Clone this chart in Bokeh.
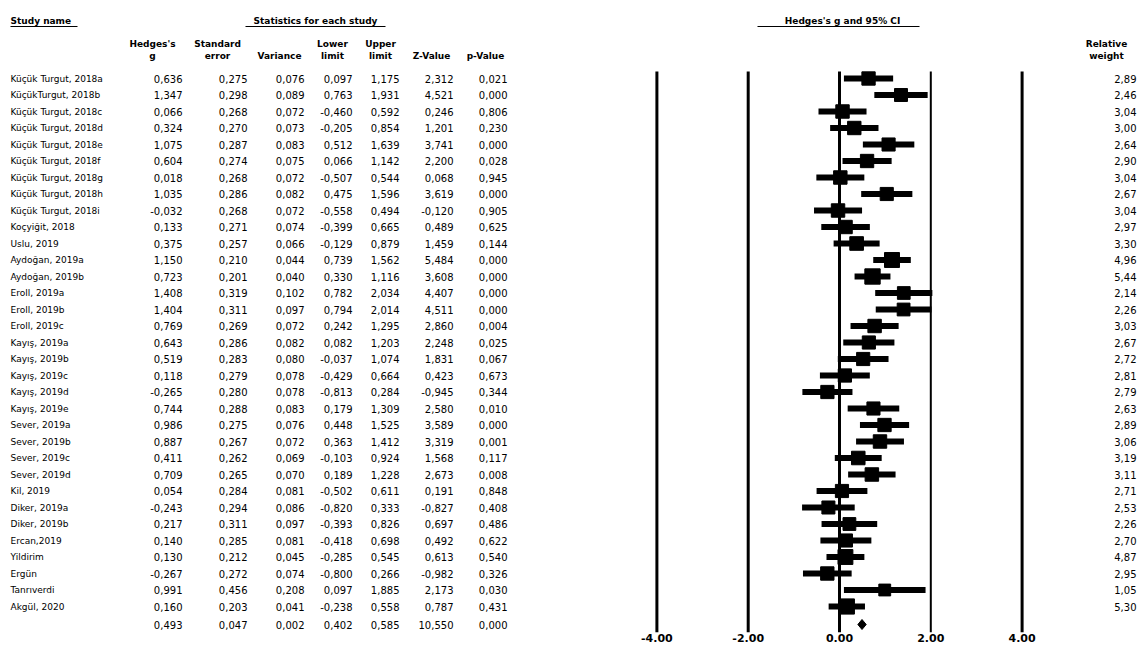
from bokeh.plotting import figure
from bokeh.models import Range1d, FixedTicker, NumeralTickFormatter
from bokeh.core.properties import value
from bokeh.embed import file_html
from bokeh.resources import INLINE

# ---------------- data ----------------
study_names = [
    "Küçük Turgut, 2018a", "KüçükTurgut, 2018b", "Küçük Turgut, 2018c",
    "Küçük Turgut, 2018d", "Küçük Turgut, 2018e", "Küçük Turgut, 2018f",
    "Küçük Turgut, 2018g", "Küçük Turgut, 2018h", "Küçük Turgut, 2018i",
    "Koçyiğit, 2018", "Uslu, 2019", "Aydoğan, 2019a", "Aydoğan, 2019b",
    "Eroll, 2019a", "Eroll, 2019b", "Eroll, 2019c",
    "Kayış, 2019a", "Kayış, 2019b", "Kayış, 2019c", "Kayış, 2019d", "Kayış, 2019e",
    "Sever, 2019a", "Sever, 2019b", "Sever, 2019c", "Sever, 2019d",
    "Kil, 2019", "Diker, 2019a", "Diker, 2019b", "Ercan,2019", "Yildirim",
    "Ergün", "Tanrıverdi", "Akgül, 2020",
]
hedges_g = [0.636, 1.347, 0.066, 0.324, 1.075, 0.604, 0.018, 1.035, -0.032,
            0.133, 0.375, 1.150, 0.723, 1.408, 1.404, 0.769, 0.643, 0.519,
            0.118, -0.265, 0.744, 0.986, 0.887, 0.411, 0.709, 0.054, -0.243,
            0.217, 0.140, 0.130, -0.267, 0.991, 0.160]
std_err = [0.275, 0.298, 0.268, 0.270, 0.287, 0.274, 0.268, 0.286, 0.268,
           0.271, 0.257, 0.210, 0.201, 0.319, 0.311, 0.269, 0.286, 0.283,
           0.279, 0.280, 0.288, 0.275, 0.267, 0.262, 0.265, 0.284, 0.294,
           0.311, 0.285, 0.212, 0.272, 0.456, 0.203]
variance = [0.076, 0.089, 0.072, 0.073, 0.083, 0.075, 0.072, 0.082, 0.072,
            0.074, 0.066, 0.044, 0.040, 0.102, 0.097, 0.072, 0.082, 0.080,
            0.078, 0.078, 0.083, 0.076, 0.072, 0.069, 0.070, 0.081, 0.086,
            0.097, 0.081, 0.045, 0.074, 0.208, 0.041]
lower_limit = [0.097, 0.763, -0.460, -0.205, 0.512, 0.066, -0.507, 0.475, -0.558,
               -0.399, -0.129, 0.739, 0.330, 0.782, 0.794, 0.242, 0.082, -0.037,
               -0.429, -0.813, 0.179, 0.448, 0.363, -0.103, 0.189, -0.502, -0.820,
               -0.393, -0.418, -0.285, -0.800, 0.097, -0.238]
upper_limit = [1.175, 1.931, 0.592, 0.854, 1.639, 1.142, 0.544, 1.596, 0.494,
               0.665, 0.879, 1.562, 1.116, 2.034, 2.014, 1.295, 1.203, 1.074,
               0.664, 0.284, 1.309, 1.525, 1.412, 0.924, 1.228, 0.611, 0.333,
               0.826, 0.698, 0.545, 0.266, 1.885, 0.558]
z_value = [2.312, 4.521, 0.246, 1.201, 3.741, 2.200, 0.068, 3.619, -0.120,
           0.489, 1.459, 5.484, 3.608, 4.407, 4.511, 2.860, 2.248, 1.831,
           0.423, -0.945, 2.580, 3.589, 3.319, 1.568, 2.673, 0.191, -0.827,
           0.697, 0.492, 0.613, -0.982, 2.173, 0.787]
p_value = [0.021, 0.000, 0.806, 0.230, 0.000, 0.028, 0.945, 0.000, 0.905,
           0.625, 0.144, 0.000, 0.000, 0.000, 0.000, 0.004, 0.025, 0.067,
           0.673, 0.344, 0.010, 0.000, 0.001, 0.117, 0.008, 0.848, 0.408,
           0.486, 0.622, 0.540, 0.326, 0.030, 0.431]
rel_weight = [2.89, 2.46, 3.04, 3.00, 2.64, 2.90, 3.04, 2.67, 3.04, 2.97, 3.30,
              4.96, 5.44, 2.14, 2.26, 3.03, 2.67, 2.72, 2.81, 2.79, 2.63, 2.89,
              3.06, 3.19, 3.11, 2.71, 2.53, 2.26, 2.70, 4.87, 2.95, 1.05, 5.30]
# summary: g, se, var, lower, upper, z, p
summary_stats = [0.493, 0.047, 0.002, 0.402, 0.585, 10.550, 0.000]
axis_ticks = [-4, -2, 0, 2, 4]
column_headers = [("Hedges's", "g"), ("Standard", "error"), ("", "Variance"),
                  ("Lower", "limit"), ("Upper", "limit"), ("", "Z-Value"), ("", "p-Value")]

# ---------------- layout ----------------
FONT = value("DejaVu Sans")
FW, FH = 1137, 632          # frame size (page is drawn at the window origin)
X0, S = 839.0, 45.65        # window x of 0 and px per unit
Y0, DY = 78.0, 16.5         # window y of first row and row pitch
n = len(study_names)
rows = list(range(n))
sum_row = (n - 1) + 18.0 / DY

p = figure(frame_width=FW, frame_height=FH,
           x_range=Range1d((0 - X0) / S, (FW - X0) / S),
           y_range=Range1d((FH - Y0) / DY, (0 - Y0) / DY),
           output_backend="svg", toolbar_location=None, min_border=0,
           y_axis_location=None, outline_line_color=None)
p.extra_x_ranges = {"px": Range1d(0, FW)}
p.extra_y_ranges = {"py": Range1d(FH, 0)}
p.grid.visible = False

ax = p.xaxis[0]
ax.ticker = FixedTicker(ticks=axis_ticks)
ax.formatter = NumeralTickFormatter(format="0.00")
ax.axis_line_color = None
ax.major_tick_line_color = None
ax.minor_tick_line_color = None
ax.major_tick_in = 0
ax.major_tick_out = 0
ax.major_label_standoff = 1
ax.major_label_text_font = "DejaVu Sans"
ax.major_label_text_font_size = "11px"
ax.major_label_text_font_style = "bold"
ax.major_label_text_color = "black"


def fmt(v, d=3):
    return f"{v:.{d}f}".replace(".", ",")


def txt(x, y, t, align="left", bold=False, size="9px", yname="default"):
    p.text(x=x, y=y, text=t, x_range_name="px", y_range_name=yname,
           text_font=FONT, text_font_size=size, text_align=align,
           text_baseline="middle", text_color="black",
           text_font_style="bold" if bold else "normal")


# top headers
txt([10], [20], ["Study name"], bold=True, yname="py")
txt([315], [20], ["Statistics for each study"], align="center", bold=True, yname="py")
txt([842], [20], ["Hedges's g and 95% CI"], align="center", bold=True, yname="py")
p.segment(x0=[10, 245, 757], x1=[77, 385, 919], y0=[26, 26, 26], y1=[26, 26, 26],
          x_range_name="px", y_range_name="py", line_color="black", line_width=1)

# column headers
col_right = [182, 247, 304, 352, 399, 453, 507]
col_center = [152, 217, 279, 332, 380, 431, 485]
txt(col_center, [43] * 7, [h[0] for h in column_headers], align="center", bold=True, yname="py")
txt(col_center, [55] * 7, [h[1] for h in column_headers], align="center", bold=True, yname="py")
txt([1106, 1106], [43, 55], ["Relative", "weight"], align="center", bold=True, yname="py")

# study names
txt([10] * n, rows, study_names)

# statistics columns
columns = [hedges_g, std_err, variance, lower_limit, upper_limit, z_value, p_value]
for xr, col, sv in zip(col_right, columns, summary_stats):
    txt([xr] * (n + 1), rows + [sum_row], [fmt(v) for v in col] + [fmt(sv)],
        align="right", size="10px")

# relative weights
txt([1136] * n, rows, [fmt(w, 2) for w in rel_weight], align="right", size="10px")

# vertical reference lines
p.segment(x0=axis_ticks, x1=axis_ticks, y0=[(71 - Y0) / DY] * 5, y1=[(FH - Y0) / DY] * 5,
          line_color="black", line_width=[3, 3, 3, 2, 3])

# CI lines and squares
p.segment(x0=lower_limit, x1=upper_limit, y0=rows, y1=rows,
          line_color="black", line_width=6, line_cap="butt")
p.scatter(x=hedges_g, y=rows, marker="square",
          size=[11 + 0.8 * w for w in rel_weight], color="black")

# summary diamond
h = 5.0 / DY
p.patch(x=[summary_stats[3], summary_stats[0], summary_stats[4], summary_stats[0]],
        y=[sum_row, sum_row - h, sum_row, sum_row + h], color="black")

open("out.html", "w").write(file_html(p, INLINE))
